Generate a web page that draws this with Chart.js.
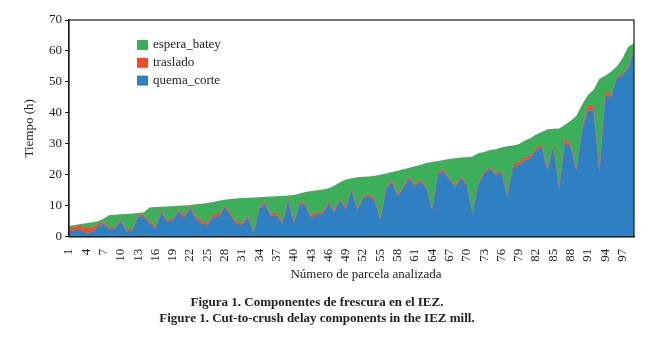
<!DOCTYPE html>
<html>
<head>
<meta charset="utf-8">
<script src="https://cdn.jsdelivr.net/npm/chart.js@4.4.1/dist/chart.umd.min.js"></script>
<style>
  html, body { margin: 0; padding: 0; background: #fff; }
  canvas { display: block; }
</style>
</head>
<body>
<canvas id="frescura-chart" width="658" height="348"></canvas>
<script>
// parcelas 1..99, ordered by total delay
const parcelas = Array.from({ length: 99 }, (_, i) => String(i + 1))

const quemaCorte = [1.7,2.2,2.2,1.3,1.6,3.5,4.4,2.5,2.8,5.5,
  1.7,2.3,6.6,6.6,4.5,2.8,8.2,4.9,5.5,8.2,
  6.0,9.6,6.0,4.4,3.9,6.6,6.6,9.8,7.0,4.4,
  3.9,6.6,1.2,9.0,10.9,6.7,7.2,4.4,12.2,4.4,
  10.9,10.3,6.0,7.6,7.6,10.9,8.2,11.9,9.0,15.2,
  8.7,12.5,13.2,12.0,5.5,15.7,17.8,13.2,16.2,18.9,
  16.4,18.0,15.7,8.7,20.5,21.1,18.5,16.2,18.9,16.8,
  7.6,17.3,20.5,22.2,20.0,21.1,13.2,22.6,23.2,24.8,
  25.4,28.0,29.1,21.6,29.6,15.7,30.7,29.1,21.6,34.5,
  40.9,40.9,21.1,45.8,45.3,51.2,52.3,54.4,60.3]

const traslado = [1.0,1.2,1.4,1.8,1.4,0.8,0.5,0.6,0.5,0.5,
  0.5,0.5,0.5,0.6,0.6,0.5,0.5,0.6,0.5,0.5,
  0.8,0.5,0.9,0.8,0.6,0.9,0.8,0.5,0.8,0.8,
  0.6,0.5,0.4,0.5,0.5,0.8,0.7,0.6,0.5,0.5,
  0.6,0.5,0.9,0.6,0.6,0.5,0.6,0.5,0.6,0.5,
  0.6,0.5,0.6,0.5,0.5,0.5,0.7,0.6,0.5,0.6,
  0.6,0.6,0.5,0.4,0.6,0.6,0.5,0.5,0.5,0.5,
  0.6,0.5,0.6,0.6,0.5,0.6,0.5,0.7,1.0,1.0,
  0.8,0.9,0.6,0.5,0.5,0.4,1.2,0.8,0.5,0.6,
  1.8,1.5,0.5,1.5,0.6,0.5,0.5,0.6,0.5]

const esperaBatey = [0.8,0.4,0.5,1.3,1.7,0.7,0.9,3.9,3.8,1.3,
  5.2,4.7,0.6,0.7,4.4,6.3,1.0,4.3,3.9,1.3,
  3.3,0.2,3.6,5.5,6.4,3.7,4.2,1.7,4.4,7.2,
  8.0,5.5,11.1,3.3,1.5,5.5,5.2,8.2,0.6,8.6,
  2.5,3.7,7.9,6.8,7.1,4.3,7.7,5.2,8.9,3.2,
  9.9,6.4,5.7,7.2,14.0,4.2,2.4,7.5,5.1,2.8,
  5.8,4.7,7.6,15.1,3.4,3.1,6.2,8.7,6.2,8.4,
  17.7,9.2,6.3,5.2,7.8,7.1,15.5,6.2,5.7,5.2,
  5.6,4.1,4.1,12.6,4.8,18.9,4.2,7.6,17.0,7.5,
  3.1,5.1,29.4,4.7,7.4,3.3,4.8,6.4,1.7]

const xTitle = 'Número de parcela analizada'
const captions = [
  'Figura 1. Componentes de frescura en el IEZ.',
  'Figure 1. Cut-to-crush delay components in the IEZ mill.'
]

const serif = '"Liberation Serif", "DejaVu Serif", serif'
const ink = '#222'

// box around plot, legend inside plot, x title (sits a bit right of centre)
const framePlugin = {
  id: 'frame',
  afterDatasetsDraw(chart) {
    const { ctx, chartArea: a } = chart
    ctx.save()
    ctx.strokeStyle = '#1a1a1a'
    ctx.lineWidth = 1.2
    ctx.strokeRect(a.left, a.top, a.right - a.left, a.bottom - a.top)

    ctx.font = `13px ${serif}`
    ctx.textBaseline = 'middle'
    const items = chart.data.datasets.slice().reverse()
    items.forEach((ds, i) => {
      const y = a.top + 25 + i * 17.8
      ctx.fillStyle = ds.backgroundColor
      ctx.fillRect(a.left + 68, y - 5, 11, 10)
      ctx.fillStyle = ink
      ctx.fillText(ds.label, a.left + 84, y)
    })

    ctx.textAlign = 'center'
    ctx.fillText(xTitle, 366, 275)
    ctx.restore()
  }
}

const ctx = document.getElementById('frescura-chart').getContext('2d')

new Chart(ctx, {
  type: 'line',
  data: {
    labels: parcelas,
    datasets: [
      {
        label: 'quema_corte',
        data: quemaCorte,
        backgroundColor: 'rgb(47, 128, 194)',
        borderColor: 'rgba(130, 120, 120, 0.8)',
        borderWidth: 0.6,
        fill: 'origin'
      },
      {
        label: 'traslado',
        data: traslado,
        backgroundColor: 'rgb(236, 76, 38)',
        borderColor: 'rgba(150, 110, 100, 0.7)',
        borderWidth: 0.5,
        fill: '-1'
      },
      {
        label: 'espera_batey',
        data: esperaBatey,
        backgroundColor: 'rgb(59, 175, 90)',
        borderWidth: 0,
        fill: '-1'
      }
    ]
  },
  options: {
    responsive: false,
    animation: false,
    layout: { padding: { left: 0, right: 24, top: 20, bottom: 22 } },
    elements: { point: { radius: 0 }, line: { tension: 0 } },
    scales: {
      x: {
        offset: false,
        grid: { display: false },
        border: { display: true, color: '#1a1a1a', width: 1.2 },
        ticks: {
          autoSkip: false,
          maxRotation: 90,
          minRotation: 90,
          padding: 4,
          color: ink,
          font: { family: serif, size: 13 },
          callback: function (value, index) {
            return index % 3 === 0 ? this.getLabelForValue(value) : ''
          }
        },
        afterFit: (axis) => { axis.height = 50 }
      },
      y: {
        stacked: true,
        min: 0,
        max: 70,
        border: { display: true, color: '#1a1a1a', width: 1.2 },
        grid: { drawOnChartArea: false, tickLength: 4, color: '#1a1a1a' },
        ticks: {
          stepSize: 10,
          padding: 3,
          color: ink,
          font: { family: serif, size: 13 }
        },
        title: {
          display: true,
          text: 'Tiempo (h)',
          color: ink,
          font: { family: serif, size: 13 },
          padding: { top: 22, bottom: 0 }
        },
        afterFit: (axis) => { axis.width = 69 }
      }
    },
    plugins: {
      legend: { display: false },
      tooltip: { enabled: false },
      title: {
        display: true,
        position: 'bottom',
        text: captions,
        color: ink,
        font: { family: serif, size: 13, weight: 'bold' },
        padding: { top: 8, bottom: 0 }
      }
    }
  },
  plugins: [framePlugin]
})
</script>
</body>
</html>
